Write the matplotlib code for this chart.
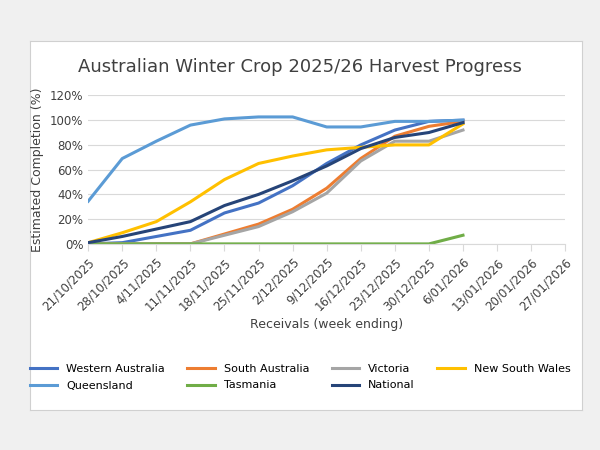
import matplotlib.pyplot as plt
import numpy as np

dates = ["21/10/2025", "28/10/2025", "4/11/2025", "11/11/2025", "18/11/2025",
         "25/11/2025", "2/12/2025", "9/12/2025", "16/12/2025", "23/12/2025",
         "30/12/2025", "6/01/2026", "13/01/2026", "20/01/2026", "27/01/2026"]

western_australia = [0, 1, 6, 11, 25, 33, 47, 65, 80, 92, 99, 100]
south_australia = [0, 0, 0, 0, 8, 16, 28, 45, 69, 87, 95, 99]
victoria = [0, 0, 0, 0, 7, 14, 26, 41, 67, 83, 83, 92]
new_south_wales = [1, 9, 18, 34, 52, 65, 71, 76, 78, 80, 80, 97]
queensland = [34.5, 69, 83, 96, 101, 102.6, 102.6, 94.5, 94.5, 99, 99, 100]
tasmania = [0, 0, 0, 0, 0, 0, 0, 0, 0, 0, 0, 7]
national = [1, 6, 12, 18, 31, 40, 51, 63, 77, 86, 90, 98]

series = [
    ("Western Australia", western_australia, "#4472c4"),
    ("South Australia", south_australia, "#ed7d31"),
    ("Victoria", victoria, "#a5a5a5"),
    ("New South Wales", new_south_wales, "#ffc000"),
    ("Queensland", queensland, "#5b9bd5"),
    ("Tasmania", tasmania, "#70ad47"),
    ("National", national, "#264478"),
]

fig = plt.figure(figsize=(6, 4.5), dpi=100, facecolor="#f0f0f0")
# white chart area with light border
bg = fig.add_axes([0.05, 0.09, 0.92, 0.82])
bg.set_facecolor("white")
bg.set_xticks([])
bg.set_yticks([])
for s in bg.spines.values():
    s.set_color("#d0d0d0")

ax = fig.add_axes([0.147, 0.458, 0.795, 0.33])
x = np.arange(len(dates))
lines = {}
for name, vals, col in series:
    lines[name], = ax.plot(x[:len(vals)], vals, color=col, lw=2.2, label=name)

ax.set_xlim(0, len(dates) - 1)
ax.set_ylim(0, 120)
ax.set_yticks(range(0, 121, 20))
ax.set_yticklabels([f"{v}%" for v in range(0, 121, 20)], fontsize=8.5, color="#404040")
ax.set_xticks(x)
ax.set_xticklabels(dates, rotation=45, ha="right", rotation_mode="anchor", fontsize=8.5, color="#404040")
ax.grid(axis="y", color="#d9d9d9", lw=0.8)
ax.set_axisbelow(True)
for side in ["top", "right", "left"]:
    ax.spines[side].set_visible(False)
ax.spines["bottom"].set_color("#d9d9d9")
ax.tick_params(axis="y", length=0)
ax.tick_params(axis="x", color="#d9d9d9", length=5)
ax.set_ylabel("Estimated Completion (%)", fontsize=9, color="#404040")
ax.set_xlabel("Receivals (week ending)", fontsize=9, color="#404040", labelpad=4)
fig.text(0.5, 0.84, "Australian Winter Crop 2025/26 Harvest Progress",
         ha="center", fontsize=13, color="#404040")

# legend filled row-wise like Excel
order = ["Western Australia", "Queensland", "South Australia", "Tasmania",
         "Victoria", "National", "New South Wales"]
fig.legend([lines[n] for n in order], order, loc="lower center",
           bbox_to_anchor=(0.5, 0.11), ncol=4, frameon=False,
           fontsize=8, handlelength=2.5, columnspacing=2.0, labelspacing=0.6)

fig.savefig("out.png", dpi=100, facecolor=fig.get_facecolor())
